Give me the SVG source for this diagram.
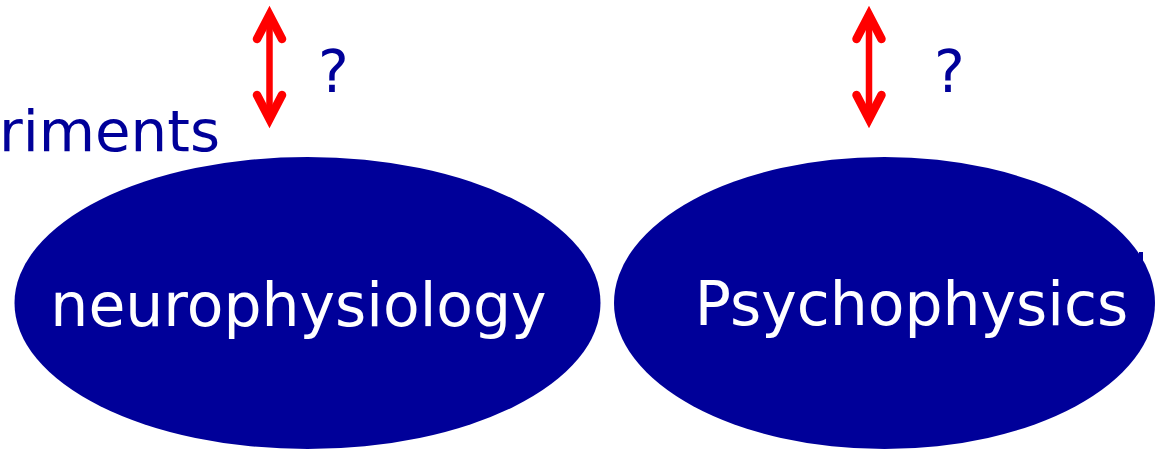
<svg xmlns="http://www.w3.org/2000/svg" width="1159" height="450" viewBox="0 0 1159 450">
<style>
.node{fill:#000099;stroke:none}
.ntext{fill:#ffffff;font-family:"DejaVu Sans","Liberation Sans",sans-serif;font-size:60px;text-anchor:middle}
.btext{fill:#000099;font-family:"DejaVu Sans","Liberation Sans",sans-serif}
.arr{fill:none;stroke:#ff0000;stroke-width:8.5;stroke-linecap:round;stroke-linejoin:miter;stroke-miterlimit:6}
.shaft{fill:none;stroke:#ff0000;stroke-width:6.5}
</style>
<defs>
<g id="dblarrow">
<line class="shaft" x1="0" y1="16" x2="0" y2="118"/>
<polyline class="arr" points="-12.5,39 0,15 12.5,39"/>
<polyline class="arr" points="-12.5,95 0,119 12.5,95"/>
</g>
</defs>
<rect width="1159" height="450" fill="#ffffff"/>
<text class="btext" x="-1" y="151" font-size="57" textLength="221" lengthAdjust="spacingAndGlyphs">riments</text>
<g id="node-neurophysiology">
<ellipse class="node" cx="307.5" cy="303" rx="293" ry="146"/>
<text class="ntext" x="298.5" y="326">neurophysiology</text>
</g>
<g id="node-psychophysics">
<ellipse class="node" cx="884.5" cy="303" rx="270.5" ry="146"/>
<text class="ntext" x="911.5" y="325">Psychophysics</text>
</g>
<rect class="node" x="1139" y="252" width="4" height="12"/>
<g id="connectors">
<use href="#dblarrow" x="269.5" y="0"/>
<use href="#dblarrow" x="869" y="0"/>
</g>
<g id="labels">
<text class="btext" x="318" y="92" font-size="58">?</text>
<text class="btext" x="934" y="92" font-size="58">?</text>
</g>
</svg>
